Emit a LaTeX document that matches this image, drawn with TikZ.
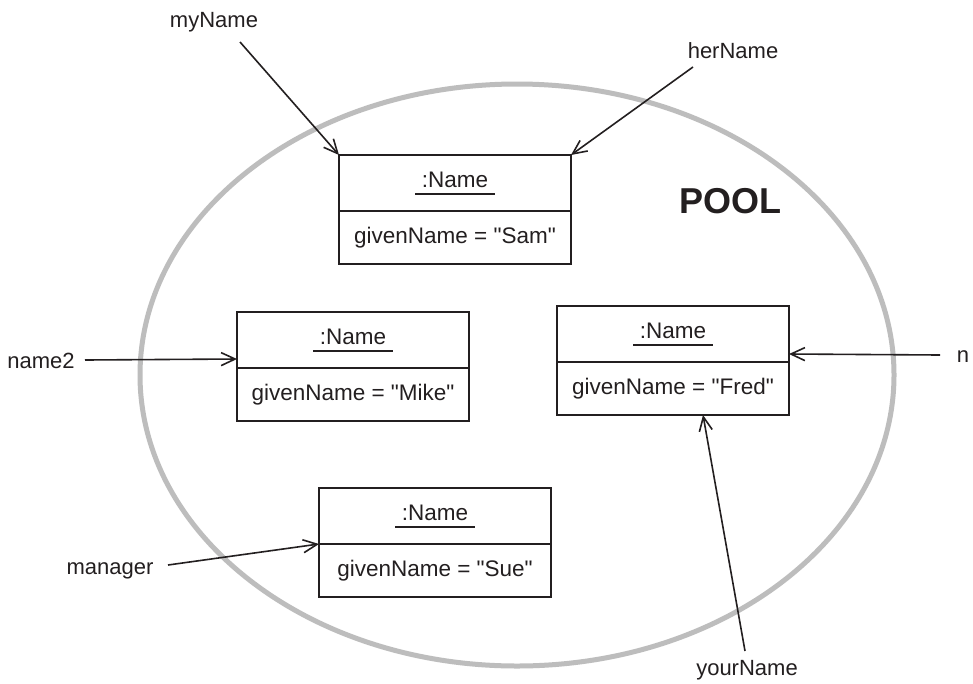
\documentclass[tikz,border=0pt]{standalone}
\usepackage{fontspec}
\setmainfont{Liberation Sans}
\usetikzlibrary{arrows.meta,calc}
\definecolor{ink}{HTML}{231F20}
\definecolor{poolgray}{HTML}{BDBDBD}
\newcommand\qd{\XeTeXglyph\XeTeXcharglyph"22\relax}
\begin{document}
\begin{tikzpicture}[x=1pt,y=-1pt,
  every node/.style={text=ink},
  txt/.style={font=\fontsize{22}{26}\selectfont, inner sep=0pt},
  hdr/.style={draw=ink, line width=1.8pt, minimum width=232pt, minimum height=56pt,
    inner sep=0pt, outer sep=0pt, text depth=7pt, font=\fontsize{22.5}{26}\selectfont},
  bodybox/.style={draw=ink, line width=1.8pt, minimum width=232pt, minimum height=53pt,
    inner sep=0pt, outer sep=0pt, anchor=north, font=\fontsize{22.5}{26}\selectfont},
  uline/.style={draw=ink, line width=1.8pt},
  ref/.style={draw=ink, line width=1.6pt, -{Straight Barb[length=14pt,width=13pt,line width=1.6pt]}}
]
\path[use as bounding box, fill=white] (0,0) rectangle (973,683);

% pool
\draw[poolgray, line width=5pt] (517,375) ellipse [x radius=377pt, y radius=291pt];
\node[anchor=base, text=ink, font=\fontsize{36}{40}\selectfont\bfseries, inner sep=0pt] (pool) at (730,213) {POOL};

% objects
\node[hdr] (samH) at (455,183) {:Name};
\node[bodybox] (samB) at (samH.south) {givenName = \qd Sam\qd};
\node[hdr] (mikeH) at (353,340) {:Name};
\node[bodybox] (mikeB) at (mikeH.south) {givenName = \qd Mike\qd};
\node[hdr] (fredH) at (673,334) {:Name};
\node[bodybox] (fredB) at (fredH.south) {givenName = \qd Fred\qd};
\node[hdr] (sueH) at (435,516) {:Name};
\node[bodybox] (sueB) at (sueH.south) {givenName = \qd Sue\qd};

\foreach \o in {samH,mikeH,fredH,sueH}{
  \draw[uline] ($(\o.base)+(-40,7)$) -- ($(\o.base)+(40,7)$);
}

% labels
\node[txt, anchor=base] (myName) at (214,27) {myName};
\node[txt, anchor=base] (herName) at (733,58) {herName};
\node[txt, anchor=base] (name2) at (41,368) {name2};
\node[txt, anchor=base] (n) at (963,362) {n};
\node[txt, anchor=base] (manager) at (110,574) {manager};
\node[txt, anchor=base] (yourName) at (747,675) {yourName};

% free ends of the references
\coordinate (myNameE) at (240,42);
\coordinate (herNameE) at (693,67);
\coordinate (name2E) at (85,360);
\coordinate (nE) at (940,355);
\coordinate (managerE) at (168,565);
\coordinate (yourNameE) at (745,651);

\draw[ref] (myNameE) -- (samH.north west);
\draw[ref] (herNameE) -- (samH.north east);
\draw[ref] (name2E) -- ($(mikeH.south west)+(0,-9)$);
\draw[ref] (nE) -- ($(fredH.south east)+(0,-8)$);
\draw[ref] (managerE) -- (sueH.south west);
\draw[ref] (yourNameE) -- ($(fredB.south west)+(146,0)$);
\end{tikzpicture}
\end{document}
